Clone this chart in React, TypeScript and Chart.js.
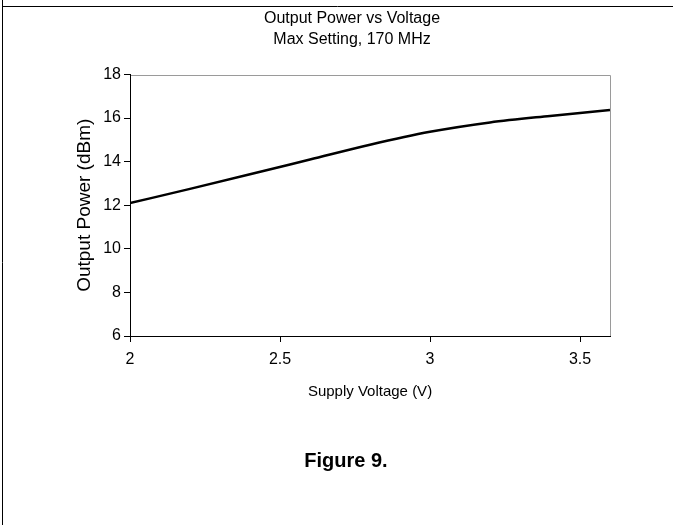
import React, { useEffect, useRef } from "react";
import { Chart, registerables } from "chart.js";

Chart.register(...registerables);

const TITLE_LINES = ["Output Power vs Voltage", "Max Setting, 170 MHz"];
const CAPTION = "Figure 9.";
const X_LABEL = "Supply Voltage (V)";
const Y_LABEL = "Output Power (dBm)";

const VOLTAGE = [2.0, 2.2, 2.4, 2.6, 2.8, 3.0, 3.2, 3.4, 3.6];
const POWER = [12.1, 12.75, 13.42, 14.1, 14.78, 15.37, 15.8, 16.1, 16.37];

const X_TICKS = [2, 2.5, 3, 3.5];
const X_MIN = 2;
const X_MAX = 3.6;
const Y_MIN = 6;
const Y_MAX = 18;
const Y_STEP = 2;

const FONT = "'Liberation Sans', Arial, Helvetica, sans-serif";

const framePlugin = {
  id: "frame",
  beforeDraw(chart: any) {
    const { ctx, chartArea, width, height } = chart;
    ctx.save();
    ctx.fillStyle = "#ffffff";
    ctx.fillRect(0, 0, width, height);
    ctx.strokeStyle = "#000000";
    ctx.lineWidth = 1;
    ctx.beginPath();
    ctx.moveTo(2.5, 0);
    ctx.lineTo(2.5, height);
    ctx.moveTo(2, 6.5);
    ctx.lineTo(width, 6.5);
    ctx.stroke();
    ctx.strokeStyle = "#9a9a9a";
    ctx.beginPath();
    ctx.moveTo(chartArea.left, Math.round(chartArea.top) + 0.5);
    ctx.lineTo(Math.round(chartArea.right) + 0.5, Math.round(chartArea.top) + 0.5);
    ctx.lineTo(Math.round(chartArea.right) + 0.5, chartArea.bottom);
    ctx.stroke();
    ctx.restore();
  },
  afterDraw(chart: any) {
    const { ctx } = chart;
    ctx.save();
    ctx.fillStyle = "#000000";
    ctx.font = "bold 20px " + FONT;
    ctx.textAlign = "center";
    ctx.textBaseline = "middle";
    ctx.fillText(CAPTION, 346, 461);
    ctx.restore();
  },
};

export default function App() {
  const ref = useRef<HTMLCanvasElement | null>(null);

  useEffect(() => {
    document.body.style.margin = "0";
    const canvas = ref.current;
    if (!canvas) return;
    const chart = new Chart(canvas, {
      type: "line",
      data: {
        datasets: [
          {
            label: "Output Power",
            data: VOLTAGE.map((v, i) => ({ x: v, y: POWER[i] })),
            borderColor: "#000000",
            backgroundColor: "#000000",
            borderWidth: 2.5,
            pointRadius: 0,
            cubicInterpolationMode: "monotone",
            fill: false,
          },
        ],
      },
      options: {
        responsive: false,
        animation: false,
        devicePixelRatio: 1,
        layout: { padding: { left: 94, right: 63, top: 0, bottom: 122 } },
        plugins: {
          legend: { display: false },
          tooltip: { enabled: false },
          title: {
            display: true,
            text: TITLE_LINES,
            color: "#000000",
            font: { family: FONT, size: 16, weight: "normal", lineHeight: 20.5 / 16 },
            padding: { top: 8.75, bottom: 24.75 },
          },
        },
        scales: {
          x: {
            type: "linear",
            min: X_MIN,
            max: X_MAX,
            afterBuildTicks: (s: any) => {
              s.ticks = X_TICKS.map((v) => ({ value: v }));
            },
            grid: {
              drawOnChartArea: false,
              drawTicks: true,
              tickLength: 6,
              color: "#000000",
            },
            border: { display: true, color: "#000000", width: 1 },
            ticks: {
              color: "#000000",
              padding: 7.5,
              maxRotation: 0,
              font: { family: FONT, size: 16, lineHeight: 1.2 },
              callback: (v: any) => String(v),
            },
            title: {
              display: true,
              text: X_LABEL,
              color: "#000000",
              font: { family: FONT, size: 15, lineHeight: 1.2 },
              padding: { top: 6.8, bottom: 2 },
            },
          },
          y: {
            type: "linear",
            min: Y_MIN,
            max: Y_MAX,
            afterFit: (s: any) => {
              s.width = 36;
            },
            grid: {
              drawOnChartArea: false,
              drawTicks: true,
              tickLength: 6,
              color: "#000000",
            },
            border: { display: true, color: "#000000", width: 1 },
            ticks: {
              stepSize: Y_STEP,
              color: "#000000",
              padding: 3,
              font: { family: FONT, size: 16, lineHeight: 1.2 },
              callback: (v: any) => String(v),
            },
            title: {
              display: true,
              text: Y_LABEL,
              color: "#000000",
              font: { family: FONT, size: 19, lineHeight: 1 },
              padding: { top: -18.5, bottom: 0 },
            },
          },
        },
      },
      plugins: [framePlugin],
    } as any);
    return () => chart.destroy();
  }, []);

  return (
    <div style={{ position: "absolute", left: 0, top: 0, width: 673, height: 525, background: "#fff" }}>
      <canvas ref={ref} width={673} height={525} style={{ display: "block" }} />
    </div>
  );
}
